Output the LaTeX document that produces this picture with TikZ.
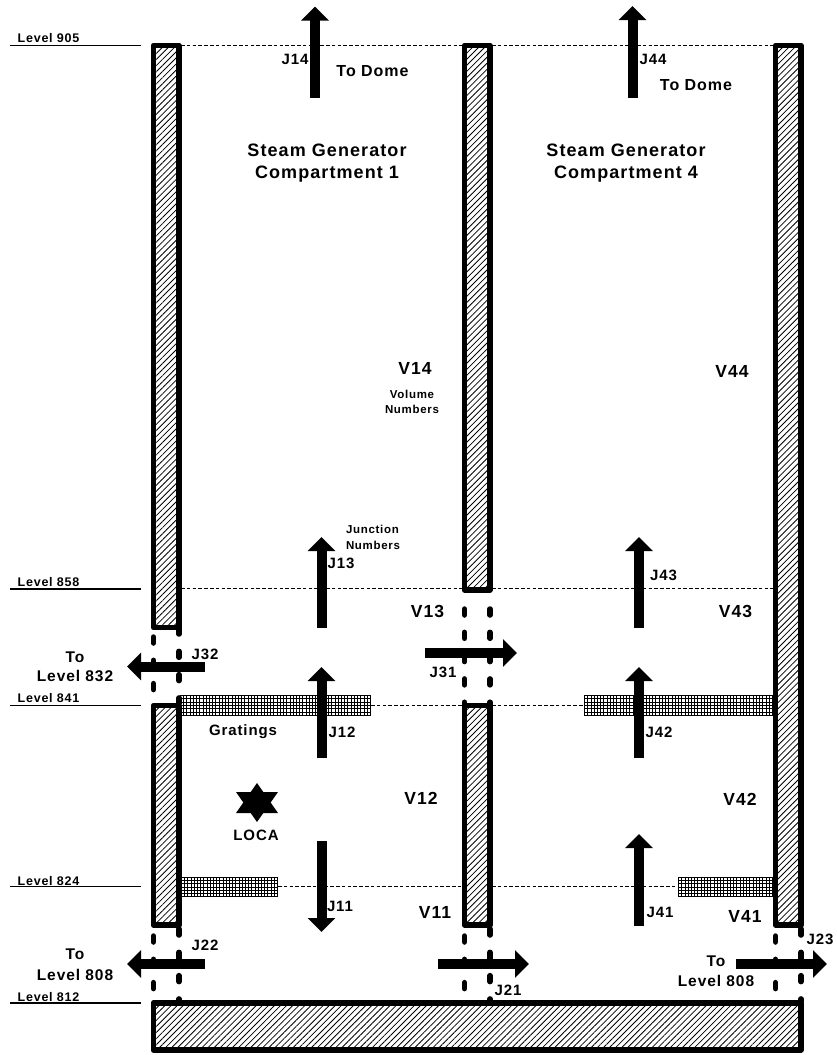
\documentclass[tikz,border=0pt]{standalone}
\usepackage{fontspec}
\setmainfont{Liberation Sans}[BoldFont=* Bold]
\newfontfamily\lblfont{Liberation Sans Bold}[LetterSpace=6]
\usetikzlibrary{arrows.meta,patterns.meta}
\tikzset{
  x=1pt,y=-1pt,
  lbl/.style={inner sep=0pt,font=\lblfont\fontsize{#1}{#1}\selectfont,text=black,align=center},
  lbl/.default=15,
  flow/.style={line width=10pt,-{Triangle[width=27pt,length=14pt]},shorten >=0pt},
  level/.style={line width=1.5pt},
  sill/.style={line width=1.2pt,dash pattern=on 3.6pt off 2.2pt},
  gap/.style={line width=5.5pt,line cap=round,dash pattern=on 6pt off 17.3pt},
  wallhatch/.style={pattern={Lines[angle=45,distance=4.3pt,line width=.8pt]}},
  wall/.style={line width=5.6pt,line join=round},
  meshline/.style={line width=.95pt},
}
\begin{document}
\begin{tikzpicture}
\useasboundingbox[fill=white] (0,0) rectangle (836,1055);
% level lines
\foreach \n/\y in {a/45.5,b/589,c/705.5,d/886.5,e/1003}{
  \coordinate (L\n s) at (10,\y); \coordinate (L\n e) at (141,\y);
  \draw[level] (L\n s) -- (L\n e);
}
% dashed sills
\foreach \n/\xa/\xb/\y in {a/181/463/45.5,b/492/775/45.5,c/181/463/588.5,d/492/775/588.5,e/371/463/705.5,f/492/584/705.5,g/278/463/886.5,h/492/678/886.5}{
  \coordinate (S\n s) at (\xa,\y); \coordinate (S\n e) at (\xb,\y);
  \draw[sill] (S\n s) -- (S\n e);
}
% gratings
\foreach \xa/\xb/\ya/\yb in {180/371/695/716,584/773/695/716,181/278/877/897,678/773/877/897}{
  \foreach \i in {0,...,6}{
    \pgfmathsetmacro{\yy}{\ya+0.5+\i*(\yb-\ya-1)/6}
    \draw[meshline] (\xa,\yy) -- (\xb,\yy);
  }
  \pgfmathtruncatemacro{\nn}{(\xb-\xa-1)/3.2}
  \foreach \i in {0,...,\nn}{
    \pgfmathsetmacro{\xx}{\xa+0.5+\i*(\xb-\xa-1)/\nn}
    \draw[meshline] (\xx,\ya) -- (\xx,\yb);
  }
}
% walls
\foreach \xa/\ya/\xb/\yb in {153.4/45.5/179/627.5,153.4/705.5/179/925,464.5/45.5/490/590,464.5/705.5/490/925,775.5/45.5/801/925,153.4/1003/801/1050}{
  \path[fill=white] (\xa,\ya) rectangle (\xb,\yb);
  \path[wallhatch] (\xa,\ya) rectangle (\xb,\yb);
  \draw[wall] (\xa,\ya) rectangle (\xb,\yb);
}
% openings
\foreach \n/\x/\oa/\ob in {a/153.4/637/700,b/179/628/703,c/464.5/609/706,d/490/609/706,
  e/153.4/936/998,f/179/929/1001,g/464.5/936/998,h/490/929/1001,i/775.5/936/998,j/801/929/1001}{
  \coordinate (G\n s) at (\x,\oa); \coordinate (G\n e) at (\x,\ob);
  \draw[gap] (G\n s) -- (G\n e);
}
% flow arrows
\foreach \n/\xa/\ya/\xb/\yb in {
  j14/315/98/315/6.5, j44/632.5/98/632.5/6, j13/321.5/628/321.5/537, j12/321.5/758/321.5/667,
  j11/321.5/841/321.5/932, j43/639/628/639/537, j42/639/758/639/667, j41/639/926/639/834,
  j31/425/653/517/653, j32/205/666.5/127/666.5, j22/205/964/127/964, j21/438/964/529/964, j23/736/964/827/964}{
  \coordinate (\n s) at (\xa,\ya); \coordinate (\n e) at (\xb,\yb);
  \draw[flow] (\n s) -- (\n e);
}
% LOCA star
\fill (257,783) -- (278,813) -- (236,813) -- cycle;
\fill (257,822) -- (278,792) -- (236,792) -- cycle;
% text
\node[lbl=12.5] (t1) at (48.5,38.5) {Level 905};
\node[lbl=12.5] (t2) at (48.5,582.5) {Level 858};
\node[lbl=12.5] (t3) at (48.5,698.5) {Level 841};
\node[lbl=12.5] (t4) at (48.5,881) {Level 824};
\node[lbl=12.5] (t5) at (48.5,997) {Level 812};
\node[lbl=15] (t6) at (295,59) {J14};
\node[lbl=15] (t7) at (653,59) {J44};
\node[lbl=16] (t8) at (372.5,71.5) {To Dome};
\node[lbl=16] (t9) at (696,85) {To Dome};
\node[lbl=18] (t10) at (327,150) {Steam Generator};
\node[lbl=18] (t11) at (327,174) {Compartment 1};
\node[lbl=18] (t12) at (626,150) {Steam Generator};
\node[lbl=18] (t13) at (626,174) {Compartment 4};
\node[lbl=17.5] (t14) at (415,368.5) {V14};
\node[lbl=17.5] (t15) at (732,371.5) {V44};
\node[lbl=11.5] (t16) at (412,394) {Volume};
\node[lbl=11.5] (t17) at (412,409) {Numbers};
\node[lbl=11.5] (t18) at (372.5,529) {Junction};
\node[lbl=11.5] (t19) at (373,545) {Numbers};
\node[lbl=15] (t20) at (341,563) {J13};
\node[lbl=15] (t21) at (663.5,575.5) {J43};
\node[lbl=17.5] (t22) at (427.5,611.5) {V13};
\node[lbl=17.5] (t23) at (735.5,611.5) {V43};
\node[lbl=15] (t24) at (443,672.5) {J31};
\node[lbl=15] (t25) at (205,654) {J32};
\node[lbl=15.5] (t26) at (75,657) {To};
\node[lbl=15.5] (t27) at (75,676) {Level 832};
\node[lbl=15] (t28) at (243,732) {Gratings};
\node[lbl=15] (t29) at (342,732) {J12};
\node[lbl=15] (t30) at (659,732) {J42};
\node[lbl=17.5] (t31) at (421,798) {V12};
\node[lbl=17.5] (t32) at (740,799) {V42};
\node[lbl=15] (t33) at (256,835) {LOCA};
\node[lbl=15] (t34) at (340,906) {J11};
\node[lbl=17.5] (t35) at (435,912) {V11};
\node[lbl=15] (t36) at (660,912) {J41};
\node[lbl=17.5] (t37) at (745,916) {V41};
\node[lbl=15] (t38) at (820,939) {J23};
\node[lbl=15.5] (t39) at (716,961) {To};
\node[lbl=15.5] (t40) at (716,981) {Level 808};
\node[lbl=15] (t41) at (508,990) {J21};
\node[lbl=15] (t42) at (205,945) {J22};
\node[lbl=15.5] (t43) at (75,954) {To};
\node[lbl=15.5] (t44) at (75,975) {Level 808};
\end{tikzpicture}
\end{document}
